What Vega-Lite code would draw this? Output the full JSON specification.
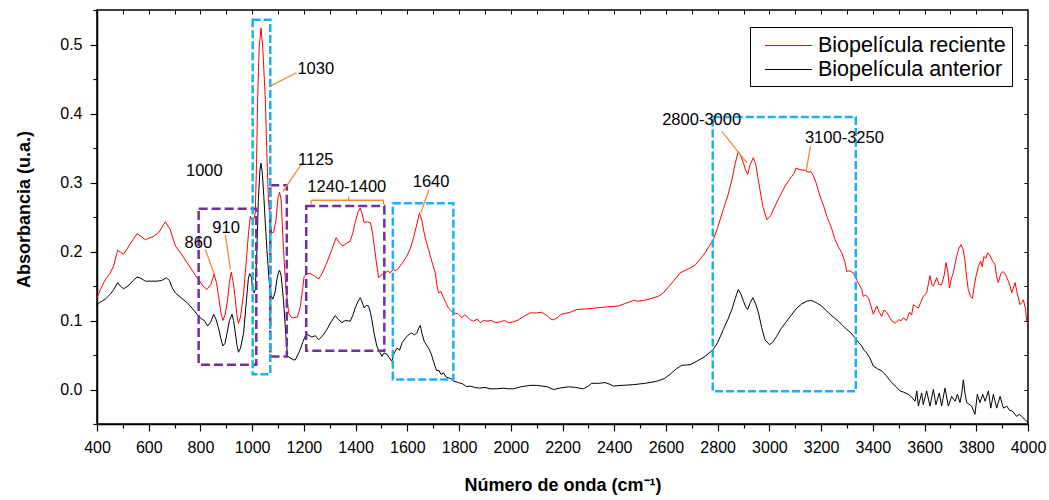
{
"$schema": "https://vega.github.io/schema/vega-lite/v6.json",
"width": 931, "height": 414,
"autosize": {"type": "none"},
"padding": {"left": 97, "top": 10, "right": 21, "bottom": 76},
"config": {
  "font": "Liberation Sans",
  "view": {"stroke": "black", "strokeWidth": 1.5},
  "axis": {"grid": false, "labelColor": "black", "titleColor": "black", "tickColor": "black", "domainColor": "black", "labelFont": "Liberation Sans", "titleFont": "Liberation Sans"}
},
"datasets": {
  "lines": [
{"serie":"Biopelícula reciente","wn":400,"abs":0.133},{"serie":"Biopelícula reciente","wn":413,"abs":0.145},{"serie":"Biopelícula reciente","wn":432,"abs":0.159},{"serie":"Biopelícula reciente","wn":450,"abs":0.168},{"serie":"Biopelícula reciente","wn":464,"abs":0.179},{"serie":"Biopelícula reciente","wn":480,"abs":0.202},{"serie":"Biopelícula reciente","wn":490,"abs":0.199},{"serie":"Biopelícula reciente","wn":503,"abs":0.196},{"serie":"Biopelícula reciente","wn":530,"abs":0.212},{"serie":"Biopelícula reciente","wn":555,"abs":0.226},{"serie":"Biopelícula reciente","wn":587,"abs":0.217},{"serie":"Biopelícula reciente","wn":619,"abs":0.222},{"serie":"Biopelícula reciente","wn":638,"abs":0.227},{"serie":"Biopelícula reciente","wn":664,"abs":0.243},{"serie":"Biopelícula reciente","wn":683,"abs":0.232},{"serie":"Biopelícula reciente","wn":703,"abs":0.208},{"serie":"Biopelícula reciente","wn":725,"abs":0.197},{"serie":"Biopelícula reciente","wn":748,"abs":0.184},{"serie":"Biopelícula reciente","wn":787,"abs":0.162},{"serie":"Biopelícula reciente","wn":810,"abs":0.150},{"serie":"Biopelícula reciente","wn":825,"abs":0.145},{"serie":"Biopelícula reciente","wn":840,"abs":0.152},{"serie":"Biopelícula reciente","wn":853,"abs":0.167},{"serie":"Biopelícula reciente","wn":862,"abs":0.155},{"serie":"Biopelícula reciente","wn":870,"abs":0.135},{"serie":"Biopelícula reciente","wn":880,"abs":0.110},{"serie":"Biopelícula reciente","wn":887,"abs":0.100},{"serie":"Biopelícula reciente","wn":895,"abs":0.108},{"serie":"Biopelícula reciente","wn":905,"abs":0.130},{"serie":"Biopelícula reciente","wn":912,"abs":0.155},{"serie":"Biopelícula reciente","wn":919,"abs":0.170},{"serie":"Biopelícula reciente","wn":927,"abs":0.155},{"serie":"Biopelícula reciente","wn":935,"abs":0.130},{"serie":"Biopelícula reciente","wn":942,"abs":0.105},{"serie":"Biopelícula reciente","wn":947,"abs":0.096},{"serie":"Biopelícula reciente","wn":955,"abs":0.105},{"serie":"Biopelícula reciente","wn":967,"abs":0.140},{"serie":"Biopelícula reciente","wn":978,"abs":0.190},{"serie":"Biopelícula reciente","wn":986,"abs":0.227},{"serie":"Biopelícula reciente","wn":993,"abs":0.251},{"serie":"Biopelícula reciente","wn":999,"abs":0.246},{"serie":"Biopelícula reciente","wn":1005,"abs":0.245},{"serie":"Biopelícula reciente","wn":1012,"abs":0.256},{"serie":"Biopelícula reciente","wn":1017,"abs":0.330},{"serie":"Biopelícula reciente","wn":1021,"abs":0.420},{"serie":"Biopelícula reciente","wn":1027,"abs":0.495},{"serie":"Biopelícula reciente","wn":1034,"abs":0.524},{"serie":"Biopelícula reciente","wn":1041,"abs":0.495},{"serie":"Biopelícula reciente","wn":1047,"abs":0.450},{"serie":"Biopelícula reciente","wn":1051,"abs":0.420},{"serie":"Biopelícula reciente","wn":1057,"abs":0.340},{"serie":"Biopelícula reciente","wn":1063,"abs":0.275},{"serie":"Biopelícula reciente","wn":1070,"abs":0.240},{"serie":"Biopelícula reciente","wn":1076,"abs":0.227},{"serie":"Biopelícula reciente","wn":1083,"abs":0.228},{"serie":"Biopelícula reciente","wn":1092,"abs":0.245},{"serie":"Biopelícula reciente","wn":1100,"abs":0.278},{"serie":"Biopelícula reciente","wn":1106,"abs":0.286},{"serie":"Biopelícula reciente","wn":1112,"abs":0.275},{"serie":"Biopelícula reciente","wn":1121,"abs":0.203},{"serie":"Biopelícula reciente","wn":1130,"abs":0.150},{"serie":"Biopelícula reciente","wn":1141,"abs":0.111},{"serie":"Biopelícula reciente","wn":1150,"abs":0.105},{"serie":"Biopelícula reciente","wn":1160,"abs":0.104},{"serie":"Biopelícula reciente","wn":1175,"abs":0.105},{"serie":"Biopelícula reciente","wn":1186,"abs":0.120},{"serie":"Biopelícula reciente","wn":1195,"abs":0.145},{"serie":"Biopelícula reciente","wn":1201,"abs":0.164},{"serie":"Biopelícula reciente","wn":1212,"abs":0.168},{"serie":"Biopelícula reciente","wn":1224,"abs":0.168},{"serie":"Biopelícula reciente","wn":1240,"abs":0.165},{"serie":"Biopelícula reciente","wn":1257,"abs":0.160},{"serie":"Biopelícula reciente","wn":1270,"abs":0.168},{"serie":"Biopelícula reciente","wn":1289,"abs":0.184},{"serie":"Biopelícula reciente","wn":1310,"abs":0.205},{"serie":"Biopelícula reciente","wn":1325,"abs":0.220},{"serie":"Biopelícula reciente","wn":1338,"abs":0.212},{"serie":"Biopelícula reciente","wn":1351,"abs":0.208},{"serie":"Biopelícula reciente","wn":1365,"abs":0.212},{"serie":"Biopelícula reciente","wn":1379,"abs":0.215},{"serie":"Biopelícula reciente","wn":1390,"abs":0.228},{"serie":"Biopelícula reciente","wn":1398,"abs":0.242},{"serie":"Biopelícula reciente","wn":1410,"abs":0.258},{"serie":"Biopelícula reciente","wn":1418,"abs":0.263},{"serie":"Biopelícula reciente","wn":1425,"abs":0.255},{"serie":"Biopelícula reciente","wn":1433,"abs":0.242},{"serie":"Biopelícula reciente","wn":1445,"abs":0.243},{"serie":"Biopelícula reciente","wn":1457,"abs":0.242},{"serie":"Biopelícula reciente","wn":1465,"abs":0.228},{"serie":"Biopelícula reciente","wn":1472,"abs":0.208},{"serie":"Biopelícula reciente","wn":1480,"abs":0.185},{"serie":"Biopelícula reciente","wn":1489,"abs":0.162},{"serie":"Biopelícula reciente","wn":1500,"abs":0.166},{"serie":"Biopelícula reciente","wn":1514,"abs":0.169},{"serie":"Biopelícula reciente","wn":1525,"abs":0.172},{"serie":"Biopelícula reciente","wn":1534,"abs":0.169},{"serie":"Biopelícula reciente","wn":1545,"abs":0.174},{"serie":"Biopelícula reciente","wn":1556,"abs":0.172},{"serie":"Biopelícula reciente","wn":1566,"abs":0.176},{"serie":"Biopelícula reciente","wn":1580,"abs":0.183},{"serie":"Biopelícula reciente","wn":1598,"abs":0.193},{"serie":"Biopelícula reciente","wn":1612,"abs":0.205},{"serie":"Biopelícula reciente","wn":1624,"abs":0.220},{"serie":"Biopelícula reciente","wn":1637,"abs":0.240},{"serie":"Biopelícula reciente","wn":1647,"abs":0.256},{"serie":"Biopelícula reciente","wn":1656,"abs":0.245},{"serie":"Biopelícula reciente","wn":1665,"abs":0.227},{"serie":"Biopelícula reciente","wn":1673,"abs":0.215},{"serie":"Biopelícula reciente","wn":1682,"abs":0.203},{"serie":"Biopelícula reciente","wn":1695,"abs":0.185},{"serie":"Biopelícula reciente","wn":1708,"abs":0.169},{"serie":"Biopelícula reciente","wn":1715,"abs":0.150},{"serie":"Biopelícula reciente","wn":1721,"abs":0.140},{"serie":"Biopelícula reciente","wn":1730,"abs":0.142},{"serie":"Biopelícula reciente","wn":1740,"abs":0.133},{"serie":"Biopelícula reciente","wn":1750,"abs":0.125},{"serie":"Biopelícula reciente","wn":1759,"abs":0.118},{"serie":"Biopelícula reciente","wn":1778,"abs":0.111},{"serie":"Biopelícula reciente","wn":1795,"abs":0.110},{"serie":"Biopelícula reciente","wn":1811,"abs":0.104},{"serie":"Biopelícula reciente","wn":1820,"abs":0.108},{"serie":"Biopelícula reciente","wn":1830,"abs":0.106},{"serie":"Biopelícula reciente","wn":1843,"abs":0.101},{"serie":"Biopelícula reciente","wn":1856,"abs":0.099},{"serie":"Biopelícula reciente","wn":1870,"abs":0.102},{"serie":"Biopelícula reciente","wn":1882,"abs":0.097},{"serie":"Biopelícula reciente","wn":1895,"abs":0.100},{"serie":"Biopelícula reciente","wn":1908,"abs":0.099},{"serie":"Biopelícula reciente","wn":1925,"abs":0.100},{"serie":"Biopelícula reciente","wn":1940,"abs":0.097},{"serie":"Biopelícula reciente","wn":1959,"abs":0.098},{"serie":"Biopelícula reciente","wn":1975,"abs":0.100},{"serie":"Biopelícula reciente","wn":1990,"abs":0.097},{"serie":"Biopelícula reciente","wn":2010,"abs":0.098},{"serie":"Biopelícula reciente","wn":2030,"abs":0.101},{"serie":"Biopelícula reciente","wn":2050,"abs":0.106},{"serie":"Biopelícula reciente","wn":2075,"abs":0.111},{"serie":"Biopelícula reciente","wn":2100,"abs":0.111},{"serie":"Biopelícula reciente","wn":2120,"abs":0.112},{"serie":"Biopelícula reciente","wn":2140,"abs":0.107},{"serie":"Biopelícula reciente","wn":2155,"abs":0.102},{"serie":"Biopelícula reciente","wn":2165,"abs":0.101},{"serie":"Biopelícula reciente","wn":2180,"abs":0.104},{"serie":"Biopelícula reciente","wn":2195,"abs":0.109},{"serie":"Biopelícula reciente","wn":2210,"abs":0.110},{"serie":"Biopelícula reciente","wn":2230,"abs":0.112},{"serie":"Biopelícula reciente","wn":2255,"abs":0.116},{"serie":"Biopelícula reciente","wn":2300,"abs":0.117},{"serie":"Biopelícula reciente","wn":2350,"abs":0.119},{"serie":"Biopelícula reciente","wn":2416,"abs":0.121},{"serie":"Biopelícula reciente","wn":2445,"abs":0.125},{"serie":"Biopelícula reciente","wn":2474,"abs":0.129},{"serie":"Biopelícula reciente","wn":2490,"abs":0.128},{"serie":"Biopelícula reciente","wn":2513,"abs":0.129},{"serie":"Biopelícula reciente","wn":2535,"abs":0.131},{"serie":"Biopelícula reciente","wn":2552,"abs":0.133},{"serie":"Biopelícula reciente","wn":2570,"abs":0.135},{"serie":"Biopelícula reciente","wn":2590,"abs":0.140},{"serie":"Biopelícula reciente","wn":2620,"abs":0.153},{"serie":"Biopelícula reciente","wn":2655,"abs":0.169},{"serie":"Biopelícula reciente","wn":2693,"abs":0.176},{"serie":"Biopelícula reciente","wn":2715,"abs":0.181},{"serie":"Biopelícula reciente","wn":2732,"abs":0.189},{"serie":"Biopelícula reciente","wn":2751,"abs":0.198},{"serie":"Biopelícula reciente","wn":2783,"abs":0.217},{"serie":"Biopelícula reciente","wn":2800,"abs":0.235},{"serie":"Biopelícula reciente","wn":2822,"abs":0.261},{"serie":"Biopelícula reciente","wn":2840,"abs":0.282},{"serie":"Biopelícula reciente","wn":2855,"abs":0.304},{"serie":"Biopelícula reciente","wn":2868,"abs":0.328},{"serie":"Biopelícula reciente","wn":2880,"abs":0.345},{"serie":"Biopelícula reciente","wn":2890,"abs":0.338},{"serie":"Biopelícula reciente","wn":2900,"abs":0.328},{"serie":"Biopelícula reciente","wn":2908,"abs":0.318},{"serie":"Biopelícula reciente","wn":2916,"abs":0.312},{"serie":"Biopelícula reciente","wn":2925,"abs":0.325},{"serie":"Biopelícula reciente","wn":2938,"abs":0.336},{"serie":"Biopelícula reciente","wn":2948,"abs":0.325},{"serie":"Biopelícula reciente","wn":2961,"abs":0.295},{"serie":"Biopelícula reciente","wn":2975,"abs":0.265},{"serie":"Biopelícula reciente","wn":2990,"abs":0.246},{"serie":"Biopelícula reciente","wn":3005,"abs":0.252},{"serie":"Biopelícula reciente","wn":3022,"abs":0.266},{"serie":"Biopelícula reciente","wn":3040,"abs":0.280},{"serie":"Biopelícula reciente","wn":3061,"abs":0.295},{"serie":"Biopelícula reciente","wn":3075,"abs":0.303},{"serie":"Biopelícula reciente","wn":3087,"abs":0.309},{"serie":"Biopelícula reciente","wn":3095,"abs":0.313},{"serie":"Biopelícula reciente","wn":3103,"abs":0.321},{"serie":"Biopelícula reciente","wn":3115,"abs":0.319},{"serie":"Biopelícula reciente","wn":3127,"abs":0.318},{"serie":"Biopelícula reciente","wn":3138,"abs":0.318},{"serie":"Biopelícula reciente","wn":3150,"abs":0.315},{"serie":"Biopelícula reciente","wn":3160,"abs":0.316},{"serie":"Biopelícula reciente","wn":3170,"abs":0.310},{"serie":"Biopelícula reciente","wn":3180,"abs":0.300},{"serie":"Biopelícula reciente","wn":3196,"abs":0.280},{"serie":"Biopelícula reciente","wn":3210,"abs":0.266},{"serie":"Biopelícula reciente","wn":3222,"abs":0.251},{"serie":"Biopelícula reciente","wn":3240,"abs":0.234},{"serie":"Biopelícula reciente","wn":3254,"abs":0.217},{"serie":"Biopelícula reciente","wn":3268,"abs":0.206},{"serie":"Biopelícula reciente","wn":3280,"abs":0.198},{"serie":"Biopelícula reciente","wn":3292,"abs":0.185},{"serie":"Biopelícula reciente","wn":3299,"abs":0.171},{"serie":"Biopelícula reciente","wn":3310,"abs":0.172},{"serie":"Biopelícula reciente","wn":3325,"abs":0.169},{"serie":"Biopelícula reciente","wn":3340,"abs":0.157},{"serie":"Biopelícula reciente","wn":3357,"abs":0.145},{"serie":"Biopelícula reciente","wn":3363,"abs":0.135},{"serie":"Biopelícula reciente","wn":3372,"abs":0.137},{"serie":"Biopelícula reciente","wn":3383,"abs":0.133},{"serie":"Biopelícula reciente","wn":3395,"abs":0.118},{"serie":"Biopelícula reciente","wn":3402,"abs":0.109},{"serie":"Biopelícula reciente","wn":3415,"abs":0.121},{"serie":"Biopelícula reciente","wn":3425,"abs":0.112},{"serie":"Biopelícula reciente","wn":3434,"abs":0.106},{"serie":"Biopelícula reciente","wn":3443,"abs":0.115},{"serie":"Biopelícula reciente","wn":3451,"abs":0.113},{"serie":"Biopelícula reciente","wn":3460,"abs":0.108},{"serie":"Biopelícula reciente","wn":3472,"abs":0.100},{"serie":"Biopelícula reciente","wn":3486,"abs":0.096},{"serie":"Biopelícula reciente","wn":3500,"abs":0.101},{"serie":"Biopelícula reciente","wn":3510,"abs":0.100},{"serie":"Biopelícula reciente","wn":3518,"abs":0.104},{"serie":"Biopelícula reciente","wn":3530,"abs":0.100},{"serie":"Biopelícula reciente","wn":3542,"abs":0.112},{"serie":"Biopelícula reciente","wn":3550,"abs":0.108},{"serie":"Biopelícula reciente","wn":3557,"abs":0.123},{"serie":"Biopelícula reciente","wn":3568,"abs":0.120},{"serie":"Biopelícula reciente","wn":3576,"abs":0.118},{"serie":"Biopelícula reciente","wn":3585,"abs":0.126},{"serie":"Biopelícula reciente","wn":3595,"abs":0.135},{"serie":"Biopelícula reciente","wn":3608,"abs":0.140},{"serie":"Biopelícula reciente","wn":3621,"abs":0.165},{"serie":"Biopelícula reciente","wn":3628,"abs":0.152},{"serie":"Biopelícula reciente","wn":3634,"abs":0.150},{"serie":"Biopelícula reciente","wn":3647,"abs":0.162},{"serie":"Biopelícula reciente","wn":3656,"abs":0.152},{"serie":"Biopelícula reciente","wn":3666,"abs":0.152},{"serie":"Biopelícula reciente","wn":3676,"abs":0.166},{"serie":"Biopelícula reciente","wn":3683,"abs":0.184},{"serie":"Biopelícula reciente","wn":3690,"abs":0.170},{"serie":"Biopelícula reciente","wn":3696,"abs":0.147},{"serie":"Biopelícula reciente","wn":3703,"abs":0.160},{"serie":"Biopelícula reciente","wn":3711,"abs":0.169},{"serie":"Biopelícula reciente","wn":3724,"abs":0.193},{"serie":"Biopelícula reciente","wn":3733,"abs":0.205},{"serie":"Biopelícula reciente","wn":3741,"abs":0.210},{"serie":"Biopelícula reciente","wn":3749,"abs":0.203},{"serie":"Biopelícula reciente","wn":3756,"abs":0.188},{"serie":"Biopelícula reciente","wn":3762,"abs":0.165},{"serie":"Biopelícula reciente","wn":3769,"abs":0.145},{"serie":"Biopelícula reciente","wn":3778,"abs":0.135},{"serie":"Biopelícula reciente","wn":3785,"abs":0.132},{"serie":"Biopelícula reciente","wn":3792,"abs":0.150},{"serie":"Biopelícula reciente","wn":3799,"abs":0.164},{"serie":"Biopelícula reciente","wn":3808,"abs":0.178},{"serie":"Biopelícula reciente","wn":3817,"abs":0.186},{"serie":"Biopelícula reciente","wn":3823,"abs":0.178},{"serie":"Biopelícula reciente","wn":3830,"abs":0.193},{"serie":"Biopelícula reciente","wn":3837,"abs":0.190},{"serie":"Biopelícula reciente","wn":3844,"abs":0.198},{"serie":"Biopelícula reciente","wn":3852,"abs":0.195},{"serie":"Biopelícula reciente","wn":3863,"abs":0.186},{"serie":"Biopelícula reciente","wn":3872,"abs":0.182},{"serie":"Biopelícula reciente","wn":3878,"abs":0.165},{"serie":"Biopelícula reciente","wn":3885,"abs":0.155},{"serie":"Biopelícula reciente","wn":3895,"abs":0.168},{"serie":"Biopelícula reciente","wn":3904,"abs":0.171},{"serie":"Biopelícula reciente","wn":3914,"abs":0.166},{"serie":"Biopelícula reciente","wn":3924,"abs":0.157},{"serie":"Biopelícula reciente","wn":3931,"abs":0.150},{"serie":"Biopelícula reciente","wn":3937,"abs":0.140},{"serie":"Biopelícula reciente","wn":3944,"abs":0.148},{"serie":"Biopelícula reciente","wn":3950,"abs":0.155},{"serie":"Biopelícula reciente","wn":3958,"abs":0.140},{"serie":"Biopelícula reciente","wn":3969,"abs":0.123},{"serie":"Biopelícula reciente","wn":3976,"abs":0.126},{"serie":"Biopelícula reciente","wn":3982,"abs":0.130},{"serie":"Biopelícula reciente","wn":3990,"abs":0.118},{"serie":"Biopelícula reciente","wn":3995,"abs":0.099},{"serie":"Biopelícula reciente","wn":4000,"abs":0.095},
{"serie":"Biopelícula anterior","wn":400,"abs":0.122},{"serie":"Biopelícula anterior","wn":410,"abs":0.126},{"serie":"Biopelícula anterior","wn":419,"abs":0.128},{"serie":"Biopelícula anterior","wn":432,"abs":0.131},{"serie":"Biopelícula anterior","wn":451,"abs":0.138},{"serie":"Biopelícula anterior","wn":465,"abs":0.145},{"serie":"Biopelícula anterior","wn":480,"abs":0.155},{"serie":"Biopelícula anterior","wn":490,"abs":0.150},{"serie":"Biopelícula anterior","wn":503,"abs":0.146},{"serie":"Biopelícula anterior","wn":520,"abs":0.150},{"serie":"Biopelícula anterior","wn":540,"abs":0.158},{"serie":"Biopelícula anterior","wn":555,"abs":0.163},{"serie":"Biopelícula anterior","wn":570,"abs":0.161},{"serie":"Biopelícula anterior","wn":587,"abs":0.157},{"serie":"Biopelícula anterior","wn":610,"abs":0.157},{"serie":"Biopelícula anterior","wn":632,"abs":0.157},{"serie":"Biopelícula anterior","wn":650,"abs":0.158},{"serie":"Biopelícula anterior","wn":668,"abs":0.162},{"serie":"Biopelícula anterior","wn":680,"abs":0.158},{"serie":"Biopelícula anterior","wn":690,"abs":0.148},{"serie":"Biopelícula anterior","wn":703,"abs":0.140},{"serie":"Biopelícula anterior","wn":725,"abs":0.133},{"serie":"Biopelícula anterior","wn":748,"abs":0.126},{"serie":"Biopelícula anterior","wn":770,"abs":0.117},{"serie":"Biopelícula anterior","wn":787,"abs":0.109},{"serie":"Biopelícula anterior","wn":805,"abs":0.102},{"serie":"Biopelícula anterior","wn":815,"abs":0.100},{"serie":"Biopelícula anterior","wn":828,"abs":0.092},{"serie":"Biopelícula anterior","wn":840,"abs":0.098},{"serie":"Biopelícula anterior","wn":851,"abs":0.109},{"serie":"Biopelícula anterior","wn":860,"abs":0.102},{"serie":"Biopelícula anterior","wn":870,"abs":0.089},{"serie":"Biopelícula anterior","wn":880,"abs":0.072},{"serie":"Biopelícula anterior","wn":887,"abs":0.063},{"serie":"Biopelícula anterior","wn":895,"abs":0.067},{"serie":"Biopelícula anterior","wn":903,"abs":0.082},{"serie":"Biopelícula anterior","wn":912,"abs":0.100},{"serie":"Biopelícula anterior","wn":922,"abs":0.109},{"serie":"Biopelícula anterior","wn":928,"abs":0.100},{"serie":"Biopelícula anterior","wn":935,"abs":0.082},{"serie":"Biopelícula anterior","wn":941,"abs":0.065},{"serie":"Biopelícula anterior","wn":947,"abs":0.054},{"serie":"Biopelícula anterior","wn":955,"abs":0.060},{"serie":"Biopelícula anterior","wn":967,"abs":0.082},{"serie":"Biopelícula anterior","wn":978,"abs":0.130},{"serie":"Biopelícula anterior","wn":985,"abs":0.160},{"serie":"Biopelícula anterior","wn":990,"abs":0.168},{"serie":"Biopelícula anterior","wn":997,"abs":0.163},{"serie":"Biopelícula anterior","wn":1002,"abs":0.145},{"serie":"Biopelícula anterior","wn":1008,"abs":0.140},{"serie":"Biopelícula anterior","wn":1012,"abs":0.145},{"serie":"Biopelícula anterior","wn":1018,"abs":0.200},{"serie":"Biopelícula anterior","wn":1024,"abs":0.275},{"serie":"Biopelícula anterior","wn":1030,"abs":0.318},{"serie":"Biopelícula anterior","wn":1034,"abs":0.328},{"serie":"Biopelícula anterior","wn":1039,"abs":0.315},{"serie":"Biopelícula anterior","wn":1045,"abs":0.280},{"serie":"Biopelícula anterior","wn":1051,"abs":0.240},{"serie":"Biopelícula anterior","wn":1057,"abs":0.203},{"serie":"Biopelícula anterior","wn":1065,"abs":0.160},{"serie":"Biopelícula anterior","wn":1072,"abs":0.137},{"serie":"Biopelícula anterior","wn":1080,"abs":0.131},{"serie":"Biopelícula anterior","wn":1088,"abs":0.140},{"serie":"Biopelícula anterior","wn":1096,"abs":0.160},{"serie":"Biopelícula anterior","wn":1102,"abs":0.170},{"serie":"Biopelícula anterior","wn":1106,"abs":0.173},{"serie":"Biopelícula anterior","wn":1112,"abs":0.165},{"serie":"Biopelícula anterior","wn":1121,"abs":0.130},{"serie":"Biopelícula anterior","wn":1130,"abs":0.080},{"serie":"Biopelícula anterior","wn":1137,"abs":0.048},{"serie":"Biopelícula anterior","wn":1150,"abs":0.045},{"serie":"Biopelícula anterior","wn":1160,"abs":0.043},{"serie":"Biopelícula anterior","wn":1167,"abs":0.043},{"serie":"Biopelícula anterior","wn":1176,"abs":0.050},{"serie":"Biopelícula anterior","wn":1186,"abs":0.058},{"serie":"Biopelícula anterior","wn":1195,"abs":0.068},{"serie":"Biopelícula anterior","wn":1205,"abs":0.077},{"serie":"Biopelícula anterior","wn":1212,"abs":0.080},{"serie":"Biopelícula anterior","wn":1231,"abs":0.076},{"serie":"Biopelícula anterior","wn":1244,"abs":0.078},{"serie":"Biopelícula anterior","wn":1257,"abs":0.072},{"serie":"Biopelícula anterior","wn":1275,"abs":0.079},{"serie":"Biopelícula anterior","wn":1289,"abs":0.087},{"serie":"Biopelícula anterior","wn":1305,"abs":0.098},{"serie":"Biopelícula anterior","wn":1321,"abs":0.107},{"serie":"Biopelícula anterior","wn":1335,"abs":0.101},{"serie":"Biopelícula anterior","wn":1347,"abs":0.097},{"serie":"Biopelícula anterior","wn":1360,"abs":0.100},{"serie":"Biopelícula anterior","wn":1379,"abs":0.099},{"serie":"Biopelícula anterior","wn":1390,"abs":0.108},{"serie":"Biopelícula anterior","wn":1398,"abs":0.118},{"serie":"Biopelícula anterior","wn":1410,"abs":0.128},{"serie":"Biopelícula anterior","wn":1418,"abs":0.133},{"serie":"Biopelícula anterior","wn":1425,"abs":0.127},{"serie":"Biopelícula anterior","wn":1433,"abs":0.118},{"serie":"Biopelícula anterior","wn":1441,"abs":0.122},{"serie":"Biopelícula anterior","wn":1450,"abs":0.121},{"serie":"Biopelícula anterior","wn":1457,"abs":0.112},{"serie":"Biopelícula anterior","wn":1463,"abs":0.101},{"serie":"Biopelícula anterior","wn":1472,"abs":0.080},{"serie":"Biopelícula anterior","wn":1482,"abs":0.063},{"serie":"Biopelícula anterior","wn":1492,"abs":0.055},{"serie":"Biopelícula anterior","wn":1502,"abs":0.048},{"serie":"Biopelícula anterior","wn":1510,"abs":0.053},{"serie":"Biopelícula anterior","wn":1521,"abs":0.051},{"serie":"Biopelícula anterior","wn":1530,"abs":0.046},{"serie":"Biopelícula anterior","wn":1540,"abs":0.041},{"serie":"Biopelícula anterior","wn":1548,"abs":0.052},{"serie":"Biopelícula anterior","wn":1560,"abs":0.060},{"serie":"Biopelícula anterior","wn":1570,"abs":0.057},{"serie":"Biopelícula anterior","wn":1580,"abs":0.068},{"serie":"Biopelícula anterior","wn":1598,"abs":0.077},{"serie":"Biopelícula anterior","wn":1608,"abs":0.080},{"serie":"Biopelícula anterior","wn":1617,"abs":0.082},{"serie":"Biopelícula anterior","wn":1627,"abs":0.079},{"serie":"Biopelícula anterior","wn":1637,"abs":0.082},{"serie":"Biopelícula anterior","wn":1643,"abs":0.088},{"serie":"Biopelícula anterior","wn":1650,"abs":0.093},{"serie":"Biopelícula anterior","wn":1656,"abs":0.082},{"serie":"Biopelícula anterior","wn":1665,"abs":0.070},{"serie":"Biopelícula anterior","wn":1673,"abs":0.065},{"serie":"Biopelícula anterior","wn":1682,"abs":0.060},{"serie":"Biopelícula anterior","wn":1692,"abs":0.052},{"serie":"Biopelícula anterior","wn":1701,"abs":0.041},{"serie":"Biopelícula anterior","wn":1708,"abs":0.033},{"serie":"Biopelícula anterior","wn":1714,"abs":0.027},{"serie":"Biopelícula anterior","wn":1722,"abs":0.028},{"serie":"Biopelícula anterior","wn":1730,"abs":0.022},{"serie":"Biopelícula anterior","wn":1740,"abs":0.024},{"serie":"Biopelícula anterior","wn":1750,"abs":0.018},{"serie":"Biopelícula anterior","wn":1766,"abs":0.016},{"serie":"Biopelícula anterior","wn":1780,"abs":0.012},{"serie":"Biopelícula anterior","wn":1798,"abs":0.010},{"serie":"Biopelícula anterior","wn":1815,"abs":0.008},{"serie":"Biopelícula anterior","wn":1830,"abs":0.004},{"serie":"Biopelícula anterior","wn":1843,"abs":0.005},{"serie":"Biopelícula anterior","wn":1860,"abs":0.003},{"serie":"Biopelícula anterior","wn":1880,"abs":0.002},{"serie":"Biopelícula anterior","wn":1900,"abs":0.003},{"serie":"Biopelícula anterior","wn":1920,"abs":0.001},{"serie":"Biopelícula anterior","wn":1946,"abs":0.001},{"serie":"Biopelícula anterior","wn":1970,"abs":0.002},{"serie":"Biopelícula anterior","wn":1990,"abs":0.001},{"serie":"Biopelícula anterior","wn":2010,"abs":0.001},{"serie":"Biopelícula anterior","wn":2040,"abs":0.004},{"serie":"Biopelícula anterior","wn":2075,"abs":0.006},{"serie":"Biopelícula anterior","wn":2100,"abs":0.006},{"serie":"Biopelícula anterior","wn":2120,"abs":0.005},{"serie":"Biopelícula anterior","wn":2140,"abs":0.004},{"serie":"Biopelícula anterior","wn":2165,"abs":0.000},{"serie":"Biopelícula anterior","wn":2190,"abs":0.002},{"serie":"Biopelícula anterior","wn":2223,"abs":0.004},{"serie":"Biopelícula anterior","wn":2250,"abs":0.003},{"serie":"Biopelícula anterior","wn":2281,"abs":0.001},{"serie":"Biopelícula anterior","wn":2300,"abs":0.005},{"serie":"Biopelícula anterior","wn":2313,"abs":0.009},{"serie":"Biopelícula anterior","wn":2340,"abs":0.009},{"serie":"Biopelícula anterior","wn":2365,"abs":0.010},{"serie":"Biopelícula anterior","wn":2380,"abs":0.008},{"serie":"Biopelícula anterior","wn":2397,"abs":0.005},{"serie":"Biopelícula anterior","wn":2430,"abs":0.006},{"serie":"Biopelícula anterior","wn":2474,"abs":0.007},{"serie":"Biopelícula anterior","wn":2520,"abs":0.009},{"serie":"Biopelícula anterior","wn":2565,"abs":0.012},{"serie":"Biopelícula anterior","wn":2595,"abs":0.016},{"serie":"Biopelícula anterior","wn":2616,"abs":0.022},{"serie":"Biopelícula anterior","wn":2640,"abs":0.030},{"serie":"Biopelícula anterior","wn":2661,"abs":0.035},{"serie":"Biopelícula anterior","wn":2693,"abs":0.036},{"serie":"Biopelícula anterior","wn":2720,"abs":0.041},{"serie":"Biopelícula anterior","wn":2751,"abs":0.048},{"serie":"Biopelícula anterior","wn":2783,"abs":0.058},{"serie":"Biopelícula anterior","wn":2800,"abs":0.068},{"serie":"Biopelícula anterior","wn":2822,"abs":0.087},{"serie":"Biopelícula anterior","wn":2840,"abs":0.102},{"serie":"Biopelícula anterior","wn":2855,"abs":0.116},{"serie":"Biopelícula anterior","wn":2868,"abs":0.132},{"serie":"Biopelícula anterior","wn":2880,"abs":0.145},{"serie":"Biopelícula anterior","wn":2890,"abs":0.138},{"serie":"Biopelícula anterior","wn":2900,"abs":0.128},{"serie":"Biopelícula anterior","wn":2908,"abs":0.120},{"serie":"Biopelícula anterior","wn":2916,"abs":0.116},{"serie":"Biopelícula anterior","wn":2926,"abs":0.126},{"serie":"Biopelícula anterior","wn":2936,"abs":0.133},{"serie":"Biopelícula anterior","wn":2946,"abs":0.125},{"serie":"Biopelícula anterior","wn":2958,"abs":0.111},{"serie":"Biopelícula anterior","wn":2970,"abs":0.090},{"serie":"Biopelícula anterior","wn":2983,"abs":0.072},{"serie":"Biopelícula anterior","wn":3000,"abs":0.065},{"serie":"Biopelícula anterior","wn":3012,"abs":0.068},{"serie":"Biopelícula anterior","wn":3028,"abs":0.077},{"serie":"Biopelícula anterior","wn":3045,"abs":0.088},{"serie":"Biopelícula anterior","wn":3067,"abs":0.099},{"serie":"Biopelícula anterior","wn":3085,"abs":0.108},{"serie":"Biopelícula anterior","wn":3106,"abs":0.118},{"serie":"Biopelícula anterior","wn":3125,"abs":0.124},{"serie":"Biopelícula anterior","wn":3145,"abs":0.128},{"serie":"Biopelícula anterior","wn":3160,"abs":0.129},{"serie":"Biopelícula anterior","wn":3170,"abs":0.128},{"serie":"Biopelícula anterior","wn":3185,"abs":0.125},{"serie":"Biopelícula anterior","wn":3202,"abs":0.121},{"serie":"Biopelícula anterior","wn":3218,"abs":0.115},{"serie":"Biopelícula anterior","wn":3235,"abs":0.109},{"serie":"Biopelícula anterior","wn":3250,"abs":0.104},{"serie":"Biopelícula anterior","wn":3267,"abs":0.099},{"serie":"Biopelícula anterior","wn":3283,"abs":0.093},{"serie":"Biopelícula anterior","wn":3299,"abs":0.087},{"serie":"Biopelícula anterior","wn":3315,"abs":0.082},{"serie":"Biopelícula anterior","wn":3331,"abs":0.075},{"serie":"Biopelícula anterior","wn":3345,"abs":0.068},{"serie":"Biopelícula anterior","wn":3357,"abs":0.063},{"serie":"Biopelícula anterior","wn":3366,"abs":0.057},{"serie":"Biopelícula anterior","wn":3376,"abs":0.053},{"serie":"Biopelícula anterior","wn":3388,"abs":0.046},{"serie":"Biopelícula anterior","wn":3402,"abs":0.034},{"serie":"Biopelícula anterior","wn":3418,"abs":0.030},{"serie":"Biopelícula anterior","wn":3434,"abs":0.027},{"serie":"Biopelícula anterior","wn":3452,"abs":0.020},{"serie":"Biopelícula anterior","wn":3473,"abs":0.010},{"serie":"Biopelícula anterior","wn":3490,"abs":0.004},{"serie":"Biopelícula anterior","wn":3505,"abs":-0.002},{"serie":"Biopelícula anterior","wn":3520,"abs":-0.004},{"serie":"Biopelícula anterior","wn":3537,"abs":-0.007},{"serie":"Biopelícula anterior","wn":3550,"abs":-0.011},{"serie":"Biopelícula anterior","wn":3563,"abs":-0.017},{"serie":"Biopelícula anterior","wn":3570,"abs":-0.002},{"serie":"Biopelícula anterior","wn":3576,"abs":-0.024},{"serie":"Biopelícula anterior","wn":3589,"abs":-0.005},{"serie":"Biopelícula anterior","wn":3595,"abs":-0.022},{"serie":"Biopelícula anterior","wn":3608,"abs":-0.002},{"serie":"Biopelícula anterior","wn":3621,"abs":-0.024},{"serie":"Biopelícula anterior","wn":3634,"abs":0.000},{"serie":"Biopelícula anterior","wn":3644,"abs":-0.022},{"serie":"Biopelícula anterior","wn":3657,"abs":-0.005},{"serie":"Biopelícula anterior","wn":3666,"abs":-0.024},{"serie":"Biopelícula anterior","wn":3679,"abs":0.002},{"serie":"Biopelícula anterior","wn":3692,"abs":-0.024},{"serie":"Biopelícula anterior","wn":3705,"abs":-0.010},{"serie":"Biopelícula anterior","wn":3718,"abs":-0.017},{"serie":"Biopelícula anterior","wn":3727,"abs":-0.007},{"serie":"Biopelícula anterior","wn":3737,"abs":-0.019},{"serie":"Biopelícula anterior","wn":3744,"abs":-0.005},{"serie":"Biopelícula anterior","wn":3750,"abs":0.014},{"serie":"Biopelícula anterior","wn":3756,"abs":-0.005},{"serie":"Biopelícula anterior","wn":3763,"abs":-0.019},{"serie":"Biopelícula anterior","wn":3782,"abs":-0.024},{"serie":"Biopelícula anterior","wn":3795,"abs":-0.036},{"serie":"Biopelícula anterior","wn":3804,"abs":-0.007},{"serie":"Biopelícula anterior","wn":3814,"abs":-0.019},{"serie":"Biopelícula anterior","wn":3825,"abs":-0.007},{"serie":"Biopelícula anterior","wn":3834,"abs":-0.017},{"serie":"Biopelícula anterior","wn":3847,"abs":-0.002},{"serie":"Biopelícula anterior","wn":3856,"abs":-0.027},{"serie":"Biopelícula anterior","wn":3866,"abs":-0.007},{"serie":"Biopelícula anterior","wn":3879,"abs":-0.027},{"serie":"Biopelícula anterior","wn":3892,"abs":-0.010},{"serie":"Biopelícula anterior","wn":3905,"abs":-0.027},{"serie":"Biopelícula anterior","wn":3918,"abs":-0.024},{"serie":"Biopelícula anterior","wn":3928,"abs":-0.030},{"serie":"Biopelícula anterior","wn":3937,"abs":-0.031},{"serie":"Biopelícula anterior","wn":3946,"abs":-0.034},{"serie":"Biopelícula anterior","wn":3956,"abs":-0.039},{"serie":"Biopelícula anterior","wn":3966,"abs":-0.036},{"serie":"Biopelícula anterior","wn":3976,"abs":-0.039},{"serie":"Biopelícula anterior","wn":3986,"abs":-0.043},{"serie":"Biopelícula anterior","wn":3995,"abs":-0.046},{"serie":"Biopelícula anterior","wn":4000,"abs":-0.048}
  ],
  "boxesPurple": [
    {"x1": 793, "x2": 1016, "y1": 0.036, "y2": 0.262},
    {"x1": 1070, "x2": 1134, "y1": 0.048, "y2": 0.296},
    {"x1": 1209, "x2": 1511, "y1": 0.056, "y2": 0.266}
  ],
  "boxesBlue": [
    {"x1": 1002, "x2": 1070, "y1": 0.022, "y2": 0.536},
    {"x1": 1544, "x2": 1778, "y1": 0.0145, "y2": 0.270},
    {"x1": 2781, "x2": 3334, "y1": -0.0025, "y2": 0.395}
  ],
  "leaders": [
    {"x1": 1070, "y1": 0.4396, "x2": 1171, "y2": 0.459},
    {"x1": 1119, "y1": 0.287, "x2": 1192, "y2": 0.3275},
    {"x1": 896, "y1": 0.2246, "x2": 916, "y2": 0.174},
    {"x1": 819, "y1": 0.203, "x2": 853, "y2": 0.167},
    {"x1": 1684, "y1": 0.2899, "x2": 1652, "y2": 0.256},
    {"x1": 2816, "y1": 0.374, "x2": 2913, "y2": 0.3285},
    {"x1": 3159, "y1": 0.3526, "x2": 3142, "y2": 0.3164},
    {"x1": 1228, "y1": 0.2743, "x2": 1508, "y2": 0.2743},
    {"x1": 1228, "y1": 0.2743, "x2": 1228, "y2": 0.268},
    {"x1": 1508, "y1": 0.2743, "x2": 1508, "y2": 0.268},
    {"x1": 1373, "y1": 0.2743, "x2": 1373, "y2": 0.280}
  ],
  "labels": [
    {"x": 815, "y": 0.316, "t": "1000"},
    {"x": 1246, "y": 0.464, "t": "1030"},
    {"x": 1246, "y": 0.333, "t": "1125"},
    {"x": 899, "y": 0.234, "t": "910"},
    {"x": 792, "y": 0.2126, "t": "860"},
    {"x": 1366, "y": 0.2938, "t": "1240-1400"},
    {"x": 1692, "y": 0.3004, "t": "1640"},
    {"x": 2738, "y": 0.390, "t": "2800-3000"},
    {"x": 3290, "y": 0.365, "t": "3100-3250"}
  ]
},
"layer": [
  {
    "data": {"name": "lines"},
    "mark": {"type": "line", "strokeWidth": 1, "interpolate": "linear"},
    "encoding": {
      "x": {"field": "wn", "type": "quantitative",
            "scale": {"domain": [400, 4000], "nice": false, "zero": false},
            "axis": {"orient": "bottom", "title": "Número de onda (cm⁻¹)", "titleFontSize": 18, "titleFontWeight": "bold", "titlePadding": 21,
                     "values": [400,600,800,1000,1200,1400,1600,1800,2000,2200,2400,2600,2800,3000,3200,3400,3600,3800,4000],
                     "format": "d", "labelOverlap": false, "labelFontSize": 16, "labelPadding": 8, "labelFlush": false,
                     "tickSize": 7, "tickWidth": 1.2, "domainWidth": 1.5}},
      "y": {"field": "abs", "type": "quantitative",
            "scale": {"domain": [-0.05, 0.55], "nice": false, "zero": false},
            "axis": {"orient": "left", "title": "Absorbancia (u.a.)", "titleFontSize": 18, "titleFontWeight": "bold", "titlePadding": 26, "titleY": 199,
                     "values": [0, 0.1, 0.2, 0.3, 0.4, 0.5],
                     "format": ".1f", "labelOverlap": false, "labelFontSize": 16, "labelPadding": 8, "labelFlush": false,
                     "tickSize": 7, "tickWidth": 1.2, "domainWidth": 1.5}},
      "color": {"field": "serie", "type": "nominal",
                "scale": {"domain": ["Biopelícula reciente", "Biopelícula anterior"], "range": ["#FF0000", "#000000"]},
                "legend": {"title": null, "orient": "none", "legendX": 653, "legendY": 17,
                           "strokeColor": "black", "fillColor": "white", "padding": 6,
                           "symbolType": "M-2,0H2", "symbolSize": 552, "symbolStrokeWidth": 1,
                           "symbolOffset": 20, "labelOffset": 17, "labelFontSize": 21.5, "labelFont": "Liberation Sans",
                           "labelColor": "black", "rowPadding": 1, "labelLimit": 400}}
    }
  },
  {
    "data": {"name": "boxesPurple"},
    "mark": {"type": "rect", "fill": null, "fillOpacity": 0, "stroke": "#7030A0", "strokeWidth": 2.5, "strokeDash": [9, 4]},
    "encoding": {
      "x": {"field": "x1", "type": "quantitative", "axis": null},
      "x2": {"field": "x2"},
      "y": {"field": "y1", "type": "quantitative", "axis": null},
      "y2": {"field": "y2"}
    }
  },
  {
    "data": {"name": "boxesBlue"},
    "mark": {"type": "rect", "fill": null, "fillOpacity": 0, "stroke": "#1AB2EE", "strokeWidth": 2.5, "strokeDash": [8, 3]},
    "encoding": {
      "x": {"field": "x1", "type": "quantitative", "axis": null},
      "x2": {"field": "x2"},
      "y": {"field": "y1", "type": "quantitative", "axis": null},
      "y2": {"field": "y2"}
    }
  },
  {
    "data": {"name": "leaders"},
    "mark": {"type": "rule", "stroke": "#F08A3C", "strokeWidth": 1.3},
    "encoding": {
      "x": {"field": "x1", "type": "quantitative", "axis": null},
      "x2": {"field": "x2"},
      "y": {"field": "y1", "type": "quantitative", "axis": null},
      "y2": {"field": "y2"}
    }
  },
  {
    "data": {"name": "labels"},
    "mark": {"type": "text", "fontSize": 16.5, "font": "Liberation Sans", "color": "black", "align": "center", "baseline": "middle"},
    "encoding": {
      "x": {"field": "x", "type": "quantitative", "axis": null},
      "y": {"field": "y", "type": "quantitative", "axis": null},
      "text": {"field": "t", "type": "nominal"}
    }
  },
  {
    "data": {"name": "lines"},
    "mark": {"type": "point", "opacity": 0},
    "encoding": {
      "x": {"field": "wn", "type": "quantitative",
            "axis": {"orient": "bottom", "title": null, "labels": false, "domain": false, "tickSize": 4, "tickWidth": 1.2,
                     "values": [500,700,900,1100,1300,1500,1700,1900,2100,2300,2500,2700,2900,3100,3300,3500,3700,3900]}},
      "y": {"field": "abs", "type": "quantitative",
            "axis": {"orient": "left", "title": null, "labels": false, "domain": false, "tickSize": 4, "tickWidth": 1.2,
                     "values": [-0.05, 0.05, 0.15, 0.25, 0.35, 0.45, 0.55]}}
    }
  },
  {
    "data": {"name": "lines"},
    "mark": {"type": "point", "opacity": 0},
    "encoding": {
      "x": {"field": "wn", "type": "quantitative",
            "axis": {"orient": "top", "title": null, "labels": false, "domain": false, "tickSize": 4, "offset": -4, "tickWidth": 1,
                     "values": [500,600,700,800,900,1000,1100,1200,1300,1400,1500,1600,1700,1800,1900,2000,2100,2200,2300,2400,2500,2600,2700,2800,2900,3000,3100,3200,3300,3400,3500,3600,3700,3800,3900]}},
      "y": {"field": "abs", "type": "quantitative",
            "axis": {"orient": "right", "title": null, "labels": false, "domain": false, "tickSize": 4, "offset": -4, "tickWidth": 1,
                     "values": [0, 0.05, 0.1, 0.15, 0.2, 0.25, 0.3, 0.35, 0.4, 0.45, 0.5]}}
    }
  }
],
"resolve": {"axis": {"x": "independent", "y": "independent"}}
}
